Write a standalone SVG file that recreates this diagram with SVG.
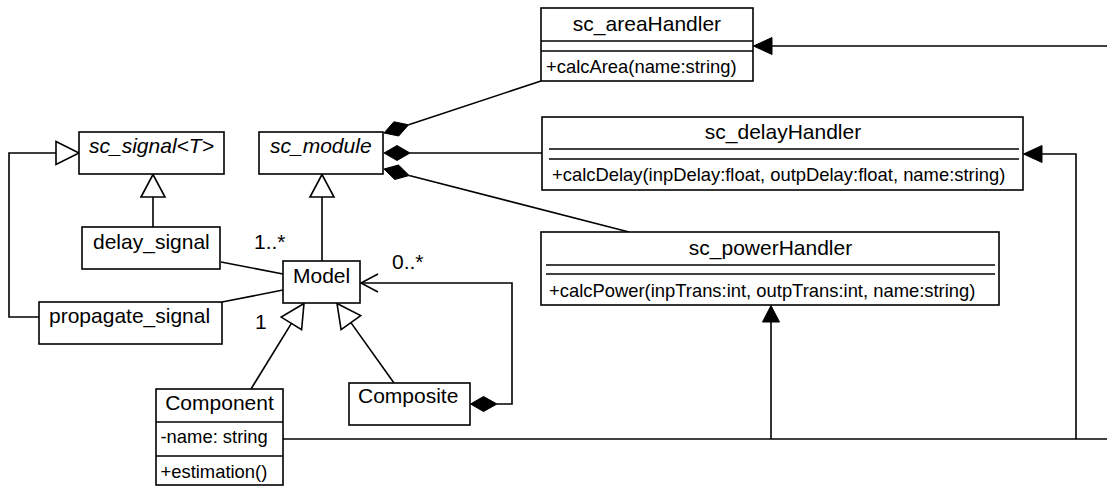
<svg xmlns="http://www.w3.org/2000/svg" width="1107" height="486" viewBox="0 0 1107 486">
<style>
.box{fill:#fff;stroke:#000;stroke-width:1.6}
.sep{stroke:#000;stroke-width:1.6;fill:none}
.ln{stroke:#000;stroke-width:1.6;fill:none}
.hollow{fill:#fff;stroke:#000;stroke-width:1.6}
.solid{fill:#000;stroke:#000;stroke-width:1}
.t{font-family:"Liberation Sans",Arial,sans-serif;font-size:21px;fill:#000}
.m{font-family:"Liberation Sans",Arial,sans-serif;font-size:18.4px;fill:#000}
.i{font-style:italic}
.c{text-anchor:middle}
</style>
<rect width="1107" height="486" fill="#fff"/>
<g id="connectors">
  <!-- propagate_signal -> sc_signal -->
  <path class="ln" d="M39,317 H9 V153 H56"/>
  <polygon class="hollow" points="56,141.5 79,153 56,164.5"/>
  <!-- delay_signal -> sc_signal -->
  <line class="ln" x1="153" y1="227" x2="153" y2="197"/>
  <polygon class="hollow" points="153,174.5 141,197 165,197"/>
  <!-- Model -> sc_module -->
  <line class="ln" x1="322" y1="261" x2="322" y2="197"/>
  <polygon class="hollow" points="322,174.5 310,197 334,197"/>
  <!-- signals - Model -->
  <line class="ln" x1="221" y1="262" x2="283" y2="274"/>
  <line class="ln" x1="222" y1="302" x2="283" y2="290"/>
  <!-- Component -> Model -->
  <line class="ln" x1="251" y1="389" x2="291.4" y2="323.4"/>
  <polygon class="hollow" points="304,303.5 281.2,317.1 301.6,329.7"/>
  <!-- Composite -> Model -->
  <line class="ln" x1="394" y1="383" x2="350.9" y2="322.6"/>
  <polygon class="hollow" points="337,303.5 360.7,315.6 341.1,329.6"/>
  <!-- Composite aggregation of Model -->
  <path class="ln" d="M361,283 H512 V404 H497"/>
  <polyline class="ln" points="378,274 361,283 378,292"/>
  <polygon class="solid" points="470.5,404 483.5,396.5 497,404 483.5,411.5"/>
  <!-- sc_module compositions -->
  <polygon class="solid" points="384,133 393.9,121.8 408.7,124.8 398.7,136"/>
  <line class="ln" x1="408.7" y1="124.8" x2="541" y2="81"/>
  <polygon class="solid" points="384,153 397,145.5 410,153 397,160.5"/>
  <line class="ln" x1="410" y1="153" x2="542" y2="153"/>
  <polygon class="solid" points="384,169 398.5,165 409.2,175.5 394.7,179.5"/>
  <line class="ln" x1="409.2" y1="175.5" x2="629" y2="232"/>
  <!-- Component name line to handlers -->
  <line class="ln" x1="283" y1="439" x2="1107" y2="439"/>
  <path class="ln" d="M1076,439 V154 H1042"/>
  <polygon class="solid" points="1023.5,154 1042,145.5 1042,162.5"/>
  <line class="ln" x1="771" y1="439" x2="771" y2="322"/>
  <polygon class="solid" points="771,305.5 762.5,322 779.5,322"/>
  <!-- area handler arrow -->
  <line class="ln" x1="1107" y1="46" x2="772" y2="46"/>
  <polygon class="solid" points="753.5,46 772,37.5 772,54.5"/>
</g>
<g id="sc_signal">
  <rect class="box" x="79" y="132" width="145" height="42"/>
  <text class="t i" x="89" y="153">sc_signal&lt;T&gt;</text>
</g>
<g id="sc_module">
  <rect class="box" x="259" y="132" width="124" height="42"/>
  <text class="t i" x="270" y="153">sc_module</text>
</g>
<g id="delay_signal">
  <rect class="box" x="82" y="227" width="138" height="42"/>
  <text class="t" x="93" y="249">delay_signal</text>
</g>
<g id="propagate_signal">
  <rect class="box" x="39" y="302" width="183" height="42"/>
  <text class="t" x="49" y="323">propagate_signal</text>
</g>
<g id="Model">
  <rect class="box" x="283" y="261" width="77" height="42"/>
  <text class="t" x="293" y="283">Model</text>
</g>
<g id="Component">
  <rect class="box" x="156" y="389" width="127" height="96"/>
  <line class="sep" x1="156" y1="422" x2="283" y2="422"/>
  <line class="sep" x1="156" y1="456" x2="283" y2="456"/>
  <text class="t c" x="219.5" y="410">Component</text>
  <text class="m" x="160.5" y="443">-name: string</text>
  <text class="m" x="160.5" y="478">+estimation()</text>
</g>
<g id="Composite">
  <rect class="box" x="349" y="383" width="121" height="42"/>
  <text class="t" x="358" y="403">Composite</text>
</g>
<g id="sc_areaHandler">
  <rect class="box" x="541" y="8" width="212" height="73"/>
  <line class="sep" x1="541" y1="41" x2="753" y2="41"/>
  <line class="sep" x1="541" y1="51" x2="753" y2="51"/>
  <text class="t c" x="647" y="31">sc_areaHandler</text>
  <text class="m" x="546" y="73">+calcArea(name:string)</text>
</g>
<g id="sc_delayHandler">
  <rect class="box" x="542" y="117" width="481" height="73"/>
  <line class="sep" x1="549" y1="149" x2="1019" y2="149"/>
  <line class="sep" x1="549" y1="159" x2="1019" y2="159"/>
  <text class="t c" x="783" y="139">sc_delayHandler</text>
  <text class="m" x="552" y="181">+calcDelay(inpDelay:float, outpDelay:float, name:string)</text>
</g>
<g id="sc_powerHandler">
  <rect class="box" x="541" y="232" width="458" height="73"/>
  <line class="sep" x1="546" y1="265" x2="995" y2="265"/>
  <line class="sep" x1="546" y1="274" x2="995" y2="274"/>
  <text class="t c" x="770.5" y="255">sc_powerHandler</text>
  <text class="m" x="549" y="297">+calcPower(inpTrans:int, outpTrans:int, name:string)</text>
</g>
<g id="multiplicities">
  <text class="t" x="254" y="249">1..*</text>
  <text class="t" x="392" y="269">0..*</text>
  <text class="t" x="255" y="329">1</text>
</g>
</svg>
